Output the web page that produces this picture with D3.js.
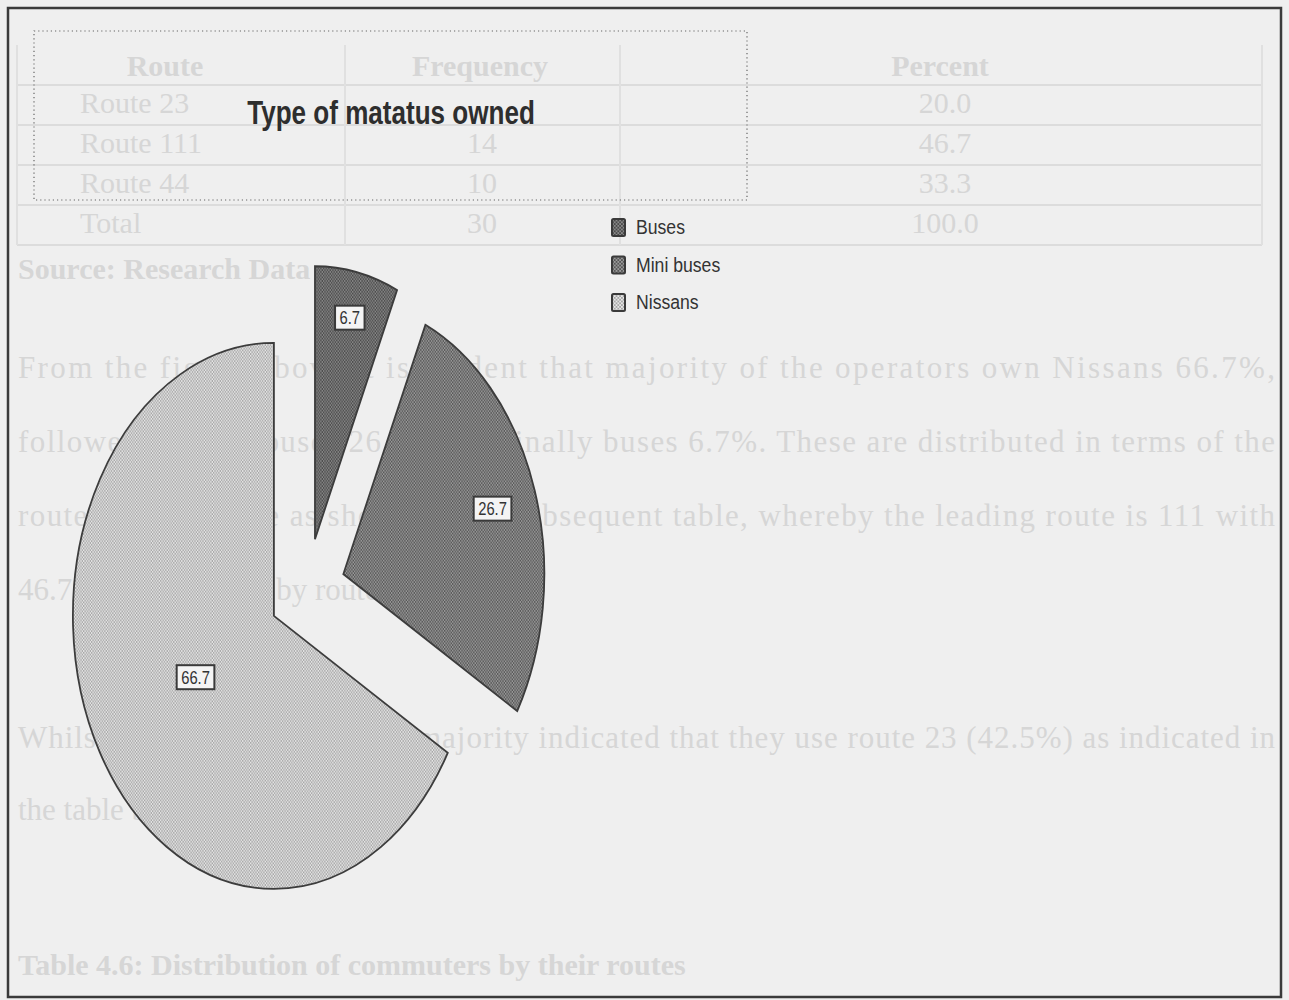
<!DOCTYPE html>
<html>
<head>
<meta charset="utf-8">
<script src="https://cdn.jsdelivr.net/npm/d3@7"></script>
<style>
html,body{margin:0;padding:0;background:#efefef;}
svg{display:block;}
</style>
</head>
<body>
<svg id="chart" width="1289" height="1000"></svg>
<script>
// ---- chart data ----
const categories = ["Buses", "Mini buses", "Nissans"];
const percentValues = [6.7, 26.7, 66.7];
const valueLabels = ["6.7", "26.7", "66.7"];
const chartTitle = "Type of matatus owned";

// ---- faint see-through text of the scanned page ----
const ghostTableHeader = ["Route", "Frequency", "Percent"];
const ghostRoutes = ["Route 23", "Route 111", "Route 44", "Total"];
const ghostFrequency = ["", "14", "10", "30"];   // first value hidden under the title
const ghostPercent = ["20.0", "46.7", "33.3", "100.0"];
const ghostSource = "Source: Research Data";
const ghostParagraph = [
  "From the figure above it is evident that majority of the operators own Nissans 66.7%,",
  "followed by mini buses 26.7% and finally buses 6.7%. These are distributed in terms of the",
  "routes they operate as shown in the subsequent table, whereby the leading route is 111 with",
  "46.7% and followed by route 44 33.3%."
];
const ghostParagraph2 = [
  "Whilst for the commuters the majority indicated that they use route 23 (42.5%) as indicated in",
  "the table below."
];
const ghostHeading = "Table 4.6: Distribution of commuters by their routes";

// ---- layout / style (not data) ----
const W = 1289, H = 1000;
const svg = d3.select("#chart");
const ghost = "#d6d6d6";
const sans = "'Liberation Sans Narrow','Arial Narrow','Liberation Sans',Arial,sans-serif";
const serif = "'Liberation Serif','Times New Roman',serif";
const NARROW = 0.8;

const defs = svg.append("defs");
function checker(id, bg, fg, size) {
  const p = defs.append("pattern").attr("id", id).attr("patternUnits", "userSpaceOnUse")
    .attr("width", size * 2).attr("height", size * 2);
  p.append("rect").attr("width", size * 2).attr("height", size * 2).attr("fill", bg);
  p.append("rect").attr("x", 0).attr("y", 0).attr("width", size).attr("height", size).attr("fill", fg);
  p.append("rect").attr("x", size).attr("y", size).attr("width", size).attr("height", size).attr("fill", fg);
}
checker("pBuses", "#4a4a4a", "#888888", 1.8);
checker("pMini", "#565656", "#9a9a9a", 1.8);
checker("pNissans", "#e6e6e6", "#a6a6a6", 1.8);
const fillIds = ["pBuses", "pMini", "pNissans"];

// narrow text helper (condensed look)
function narrowText(sel, x, y, txt, size, opts = {}) {
  return sel.append("text")
    .attr("transform", `translate(${x},${y}) scale(${opts.sx || NARROW},1)`)
    .attr("text-anchor", opts.anchor || "start")
    .attr("dy", opts.dy || null)
    .attr("font-family", sans).attr("font-size", size)
    .attr("font-weight", opts.weight || "normal")
    .attr("fill", opts.fill || "#333").text(txt);
}

// background
svg.append("rect").attr("width", W).attr("height", H).attr("fill", "#efefef");

// ---- ghost content ----
const g0 = svg.append("g").attr("fill", ghost).attr("font-family", serif);
const rowY = d3.range(6).map(i => 45 + i * 40);
const colX = [17, 345, 620, 1262];
g0.selectAll("line.h").data(rowY.slice(1)).join("line")
  .attr("x1", 17).attr("x2", 1262).attr("y1", d => d).attr("y2", d => d)
  .attr("stroke", "#dcdcdc").attr("stroke-width", 2);
g0.selectAll("line.v").data(colX).join("line")
  .attr("x1", d => d).attr("x2", d => d).attr("y1", 45).attr("y2", 245)
  .attr("stroke", "#e0e0e0").attr("stroke-width", 2);
const colCenters = [165, 480, 940];
g0.selectAll("text.hd").data(ghostTableHeader).join("text")
  .attr("x", (d, i) => colCenters[i]).attr("y", 76).attr("text-anchor", "middle")
  .attr("font-size", 30).attr("font-weight", "bold").text(d => d);
ghostRoutes.forEach((r, i) => {
  const y = 113 + i * 40;
  g0.append("text").attr("x", 80).attr("y", y).attr("font-size", 30).text(r);
  if (ghostFrequency[i]) g0.append("text").attr("x", 482).attr("y", y).attr("text-anchor", "middle").attr("font-size", 30).text(ghostFrequency[i]);
  g0.append("text").attr("x", 945).attr("y", y).attr("text-anchor", "middle").attr("font-size", 30).text(ghostPercent[i]);
});
g0.append("text").attr("x", 18).attr("y", 279).attr("font-size", 30).attr("font-weight", "bold").text(ghostSource);
ghostParagraph.forEach((t, i) => {
  const tx = g0.append("text").attr("x", 18).attr("y", 378 + i * 74).attr("font-size", 31).text(t);
  if (i < ghostParagraph.length - 1) tx.attr("textLength", 1257).attr("lengthAdjust", "spacing");
});
ghostParagraph2.forEach((t, i) => {
  const tx = g0.append("text").attr("x", 18).attr("y", 748 + i * 72).attr("font-size", 31).text(t);
  if (i === 0) tx.attr("textLength", 1257).attr("lengthAdjust", "spacing");
});
g0.append("text").attr("x", 18).attr("y", 975).attr("font-size", 30).attr("font-weight", "bold").text(ghostHeading);

// outer frame
svg.append("rect").attr("x", 8).attr("y", 8).attr("width", 1273).attr("height", 989)
  .attr("fill", "none").attr("stroke", "#3a3a3a").attr("stroke-width", 2.5);

// title box (dotted)
svg.append("rect").attr("x", 34).attr("y", 31).attr("width", 713).attr("height", 169)
  .attr("fill", "none").attr("stroke", "#666").attr("stroke-width", 1.2).attr("stroke-dasharray", "1.2,3");
narrowText(svg, 391, 124, chartTitle, 33, { anchor: "middle", weight: "bold", fill: "#2e2e2e", sx: 0.79 });

// ---- pie ----
const cx = 307, cy = 590, rx = 201, ry = 273, explode = 0.19;
const pie = d3.pie().sort(null).value(d => d)(percentValues);
const arc = d3.arc().innerRadius(0).outerRadius(ry);
const labelFrac = [0.83, 0.78, 0.45];
const pieG = svg.append("g");
pie.forEach((p, i) => {
  const m = (p.startAngle + p.endAngle) / 2;
  const ox = cx + explode * rx * Math.sin(m);
  const oy = cy - explode * ry * Math.cos(m);
  const sg = pieG.append("g").attr("transform", `translate(${ox},${oy})`);
  sg.append("path").attr("d", arc(p)).attr("transform", `scale(${rx / ry},1)`)
    .attr("fill", `url(#${fillIds[i]})`).attr("stroke", "#3c3c3c").attr("stroke-width", 1.8)
    .attr("vector-effect", "non-scaling-stroke").attr("stroke-linejoin", "miter");
  const lx = labelFrac[i] * rx * Math.sin(m), ly = -labelFrac[i] * ry * Math.cos(m);
  const lg = sg.append("g").attr("transform", `translate(${lx},${ly})`);
  const t = narrowText(lg, 0, 0, valueLabels[i], 18, { anchor: "middle", dy: "0.36em", sx: 0.82 });
  const bb = t.node().getBBox();
  const w = bb.width * 0.82 + 9;
  lg.insert("rect", "text").attr("x", -w / 2).attr("y", -12).attr("width", w).attr("height", 24)
    .attr("fill", "#f4f4f4").attr("stroke", "#3a3a3a").attr("stroke-width", 2);
});

// ---- legend ----
const lgY = d3.scalePoint().domain(categories).range([227, 302]);
const leg = svg.append("g");
categories.forEach((c, i) => {
  leg.append("rect").attr("x", 612).attr("y", lgY(c) - 8).attr("width", 13).attr("height", 17)
    .attr("rx", 1.5).attr("fill", `url(#${fillIds[i]})`).attr("stroke", "#3a3a3a").attr("stroke-width", 2);
  narrowText(leg, 636, lgY(c), c, 21, { dy: "0.35em", sx: 0.84 });
});
</script>
</body>
</html>
